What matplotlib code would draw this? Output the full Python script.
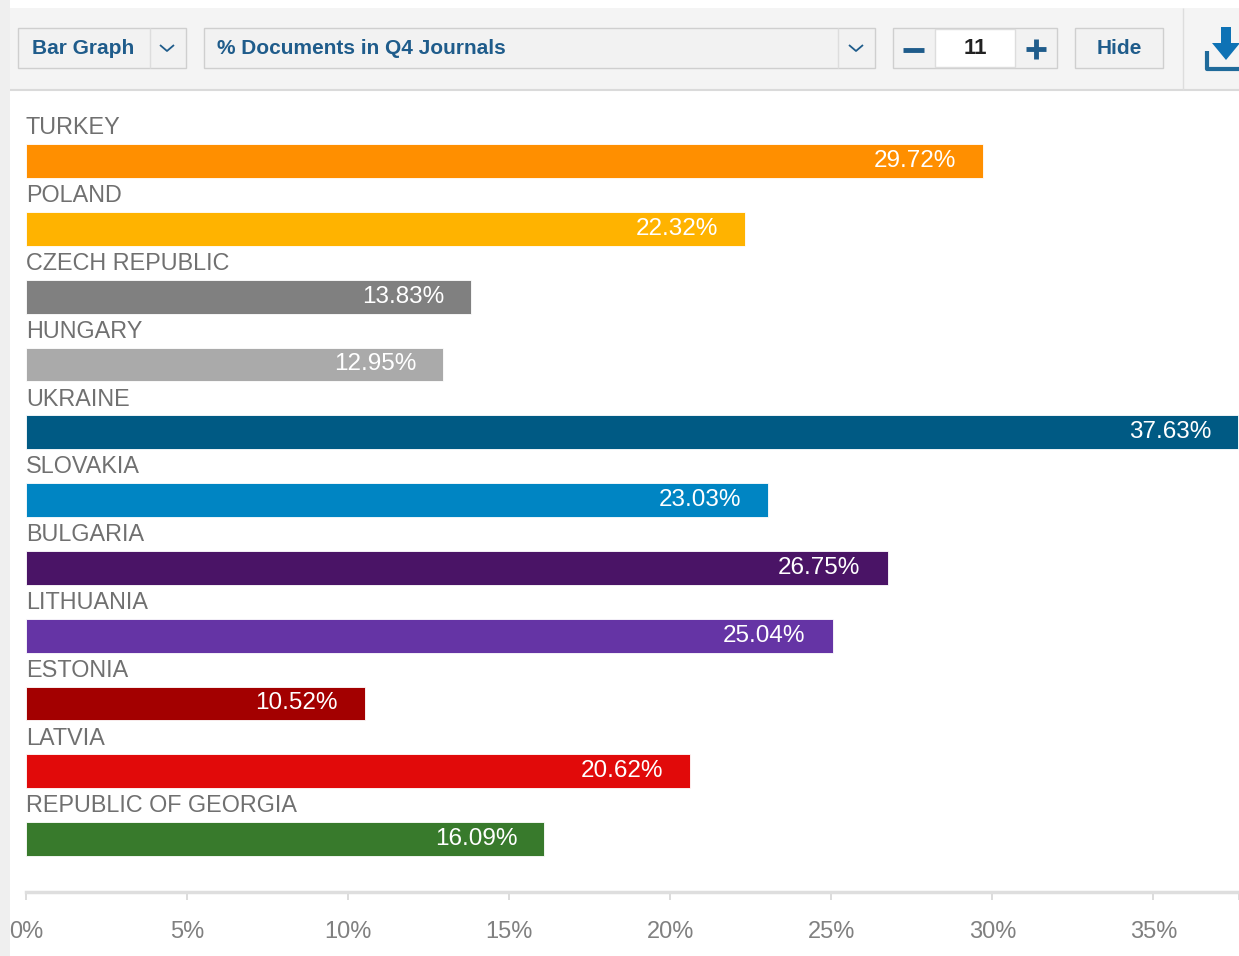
import matplotlib.pyplot as plt
from matplotlib.patches import Rectangle, Polygon
from matplotlib.lines import Line2D

countries = ["TURKEY", "POLAND", "CZECH REPUBLIC", "HUNGARY", "UKRAINE", "SLOVAKIA",
             "BULGARIA", "LITHUANIA", "ESTONIA", "LATVIA", "REPUBLIC OF GEORGIA"]
values = [29.72, 22.32, 13.83, 12.95, 37.63, 23.03, 26.75, 25.04, 10.52, 20.62, 16.09]
colors = ["#FF8F00", "#FFB300", "#808080", "#AAAAAA", "#005A84", "#0085C3",
          "#4A1466", "#6534A5", "#A30000", "#E10A0A", "#387A2C"]
ticks = [0, 5, 10, 15, 20, 25, 30, 35]

W, H = 1239, 956
fig = plt.figure(figsize=(W / 100, H / 100), dpi=100)
fig.patch.set_facecolor("white")

FONT = ["Liberation Sans", "DejaVu Sans"]
BLUE = "#1F5C8B"


def px(x, y):
    # pixel (from top-left) -> figure fraction
    return x / W, 1 - y / H


def box(x0, y0, x1, y1, fc, ec="none", lw=1.0, z=1):
    fx, fy = px(x0, y1)
    fig.patches.append(Rectangle((fx, fy), (x1 - x0) / W, (y1 - y0) / H,
                                 transform=fig.transFigure, facecolor=fc,
                                 edgecolor=ec, linewidth=lw, zorder=z))


def line(xs, ys, color, lw=1.0, z=2):
    pts = [px(x, y) for x, y in zip(xs, ys)]
    fig.lines.append(Line2D([p[0] for p in pts], [p[1] for p in pts],
                            transform=fig.transFigure, color=color,
                            linewidth=lw, zorder=z, solid_capstyle="butt"))


def label(x, y, s, **kw):
    fx, fy = px(x, y)
    fig.text(fx, fy, s, va="center", **kw)


# page chrome: left strip and toolbar
box(0, 0, 10, H, "#EFEFEF")
box(10, 8, W, 90, "#F4F4F4")
line([10, W], [90, 90], "#DADADA", 1.5)
line([1183, 1183], [8, 90], "#DDDDDD", 1)

# chart type dropdown
box(18, 28, 186, 68, "#F2F2F2", "#CFCFCF")
line([150, 150], [28, 68], "#DDDDDD")
label(32, 48, "Bar Graph", color=BLUE, fontsize=15, fontweight="bold", family=FONT)
line([160, 167, 174], [45, 51, 45], BLUE, 1.3)

# metric dropdown
box(204, 28, 875, 68, "#F2F2F2", "#CFCFCF")
line([838, 838], [28, 68], "#DDDDDD")
label(217, 48, "% Documents in Q4 Journals", color=BLUE, fontsize=15,
      fontweight="bold", family=FONT)
line([849, 856, 863], [45, 51, 45], BLUE, 1.3)

# count stepper
box(893, 28, 1057, 68, "#F2F2F2", "#CFCFCF")
box(935, 29, 1015, 67, "white", "#DDDDDD")
line([903, 924], [50, 50], BLUE, 3.5)
label(975, 48, "11", color="#222222", fontsize=16, fontweight="bold", ha="center", family=FONT)
line([1026, 1046], [49, 49], BLUE, 3.5)
line([1036, 1036], [39, 59], BLUE, 3.5)

# hide button
box(1075, 28, 1163, 68, "#F2F2F2", "#CFCFCF")
label(1119, 48, "Hide", color=BLUE, fontsize=15, fontweight="bold", ha="center", family=FONT)

# download icon
line([1207, 1207, 1239], [51, 69, 69], "#1F6A9A", 3)
box(1221, 27, 1231, 44, "#0E72B5")
arrow = [px(1212, 43), px(1240, 43), px(1226, 60)]
fig.patches.append(Polygon(arrow, closed=True, transform=fig.transFigure,
                           facecolor="#0E72B5", edgecolor="none", zorder=3))

# chart area
ax = fig.add_axes([26 / W, 1 - 892 / H, (1239 - 26) / W, (892 - 100) / H])
ypos = list(range(len(countries)))
ax.barh(ypos, values, height=0.5, color=colors, edgecolor="white", linewidth=0.6)

for y, name, v in zip(ypos, countries, values):
    ax.text(0, y - 0.49, name, va="center", ha="left", color="#707070",
            fontsize=16.8, family=FONT)
    ax.annotate(f"{v:.2f}%", xy=(v, y), xytext=(-27, 0), textcoords="offset pixels",
                ha="right", va="center", color="white", fontsize=17.5, family=FONT)

ax.set_xlim(0, 37.66)
ax.set_ylim(10.78, -0.9)
ax.set_xticks(ticks + [37.66])
ax.set_xticklabels([f"{t}%" for t in ticks] + [""], family=FONT)
ax.set_yticks([])
for s in ["top", "right", "left"]:
    ax.spines[s].set_visible(False)
ax.spines["bottom"].set_color("#DEDEDE")
ax.spines["bottom"].set_linewidth(2.5)
ax.tick_params(axis="x", length=6, width=1.2, color="#D6D6D6", labelcolor="#808080",
               labelsize=17, pad=15)
ax.set_facecolor("none")

fig.savefig("out.png", dpi=100)
